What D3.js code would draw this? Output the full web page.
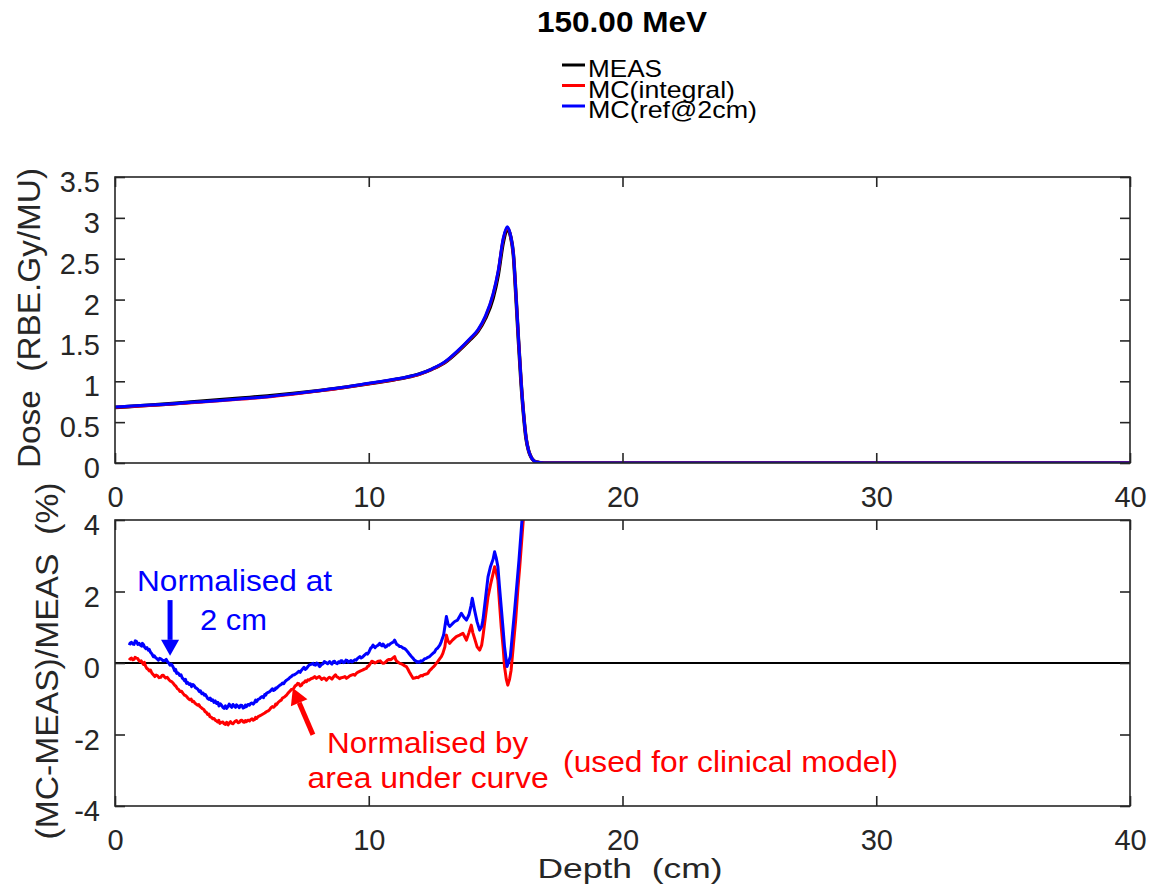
<!DOCTYPE html>
<html>
<head>
<meta charset="utf-8">
<script src="https://cdnjs.cloudflare.com/ajax/libs/d3/7.8.5/d3.min.js"></script>
<style>
body { margin: 0; background: #fff; }
text { font-family: "Liberation Sans", Arial, Helvetica, sans-serif; }
</style>
</head>
<body>
<div id="vis"></div>
<script>
/* Depth-dose curves (top panel) */
var doseDepth = [0, 1, 2, 3, 4, 5, 6, 7, 8, 9, 10, 11, 11.5, 12, 12.5, 13, 13.5, 14, 14.3, 14.6, 14.9, 15.1, 15.3, 15.46, 15.6, 15.7, 15.8, 15.9, 16.0, 16.1, 16.2, 16.3, 16.4, 16.5, 16.6, 16.8, 17, 20, 25, 30, 35, 40];
var doseMeas = [0.68, 0.70, 0.72, 0.745, 0.77, 0.795, 0.82, 0.85, 0.885, 0.925, 0.97, 1.02, 1.05, 1.09, 1.15, 1.23, 1.36, 1.51, 1.61, 1.77, 2.02, 2.3, 2.7, 2.86, 2.76, 2.55, 2.05, 1.5, 1.0, 0.6, 0.3, 0.15, 0.07, 0.03, 0.012, 0.003, 0, 0, 0, 0, 0, 0];
var doseMcInt = [0.681, 0.699, 0.716, 0.738, 0.758, 0.782, 0.808, 0.842, 0.881, 0.922, 0.97, 1.019, 1.048, 1.085, 1.148, 1.232, 1.365, 1.52, 1.62, 1.79, 2.06, 2.34, 2.74, 2.88, 2.76, 2.55, 2.06, 1.52, 1.02, 0.61, 0.31, 0.15, 0.07, 0.03, 0.012, 0.003, 0, 0, 0, 0, 0, 0];
var doseMcRef = [0.684, 0.703, 0.72, 0.742, 0.762, 0.786, 0.812, 0.846, 0.885, 0.926, 0.975, 1.024, 1.053, 1.09, 1.153, 1.238, 1.372, 1.527, 1.63, 1.8, 2.07, 2.35, 2.75, 2.89, 2.77, 2.56, 2.07, 1.53, 1.02, 0.61, 0.31, 0.15, 0.07, 0.03, 0.012, 0.003, 0, 0, 0, 0, 0, 0];

/* Relative difference (bottom panel), normalised at 2 cm */
var diffDepthRef = [0.56, 0.60, 0.65, 0.70, 0.75, 0.80, 0.85, 0.90, 0.95, 1.00, 1.05, 1.08, 1.12, 1.17, 1.22, 1.26, 1.31, 1.35, 1.40, 1.45, 1.51, 1.55, 1.60, 1.65, 1.71, 1.76, 1.82, 1.90, 1.97, 2.02, 2.08, 2.12, 2.17, 2.22, 2.28, 2.32, 2.35, 2.39, 2.43, 2.49, 2.55, 2.60, 2.65, 2.70, 2.74, 2.78, 2.82, 2.87, 2.92, 2.97, 3.02, 3.07, 3.12, 3.17, 3.22, 3.27, 3.32, 3.37, 3.42, 3.47, 3.52, 3.56, 3.61, 3.65, 3.70, 3.75, 3.80, 3.85, 3.90, 3.95, 4.00, 4.05, 4.10, 4.15, 4.20, 4.25, 4.30, 4.35, 4.40, 4.45, 4.50, 4.55, 4.60, 4.65, 4.70, 4.75, 4.79, 4.85, 4.90, 4.95, 5.00, 5.05, 5.10, 5.14, 5.18, 5.24, 5.30, 5.35, 5.40, 5.45, 5.50, 5.54, 5.58, 5.64, 5.70, 5.75, 5.80, 5.85, 5.90, 5.94, 5.97, 6.04, 6.10, 6.15, 6.20, 6.25, 6.30, 6.33, 6.36, 6.43, 6.50, 6.55, 6.60, 6.65, 6.70, 6.73, 6.76, 6.83, 6.90, 6.95, 7.00, 7.07, 7.15, 7.20, 7.25, 7.30, 7.35, 7.40, 7.45, 7.50, 7.55, 7.60, 7.65, 7.72, 7.81, 7.85, 7.90, 7.95, 8.00, 8.04, 8.07, 8.13, 8.20, 8.25, 8.30, 8.38, 8.46, 8.50, 8.55, 8.60, 8.65, 8.70, 8.76, 8.81, 8.86, 8.90, 8.95, 9.00, 9.05, 9.10, 9.15, 9.20, 9.25, 9.30, 9.35, 9.40, 9.45, 9.50, 9.55, 9.60, 9.65, 9.70, 9.75, 9.83, 9.91, 9.95, 10.00, 10.04, 10.08, 10.12, 10.17, 10.21, 10.25, 10.30, 10.35, 10.40, 10.43, 10.48, 10.52, 10.56, 10.60, 10.65, 10.70, 10.75, 10.80, 10.85, 10.90, 10.96, 11.02, 11.06, 11.10, 11.16, 11.22, 11.28, 11.35, 11.42, 11.48, 11.54, 11.60, 11.68, 11.75, 11.80, 11.85, 11.90, 11.94, 12.00, 12.05, 12.10, 12.15, 12.21, 12.27, 12.33, 12.40, 12.47, 12.53, 12.59, 12.65, 12.72, 12.80, 12.86, 12.95, 13.06, 13.12, 13.19, 13.30, 13.39, 13.50, 13.58, 13.65, 13.75, 13.85, 13.95, 14.03, 14.08, 14.17, 14.27, 14.37, 14.45, 14.50, 14.60, 14.70, 14.80, 14.90, 14.96, 15.02, 15.09, 15.15, 15.22, 15.30, 15.35, 15.45, 15.52, 15.58, 15.66, 15.75, 15.85, 15.92, 16.05, 16.20];
var diffRef = [0.50, 0.56, 0.58, 0.53, 0.52, 0.62, 0.60, 0.52, 0.55, 0.50, 0.47, 0.55, 0.52, 0.44, 0.40, 0.43, 0.36, 0.38, 0.30, 0.26, 0.18, 0.20, 0.15, 0.12, 0.08, 0.13, 0.11, 0.06, 0.07, 0.10, 0.02, 0.00, -0.06, -0.03, -0.10, -0.16, -0.22, -0.18, -0.29, -0.28, -0.35, -0.33, -0.42, -0.45, -0.50, -0.46, -0.57, -0.55, -0.60, -0.58, -0.66, -0.60, -0.63, -0.69, -0.71, -0.74, -0.80, -0.78, -0.86, -0.84, -0.90, -0.88, -0.94, -0.99, -1.02, -0.98, -1.05, -1.03, -1.10, -1.06, -1.13, -1.10, -1.20, -1.14, -1.18, -1.24, -1.27, -1.20, -1.27, -1.22, -1.15, -1.20, -1.24, -1.16, -1.20, -1.24, -1.17, -1.21, -1.25, -1.18, -1.19, -1.26, -1.24, -1.18, -1.22, -1.16, -1.18, -1.13, -1.12, -1.15, -1.10, -1.04, -1.08, -1.02, -1.00, -0.96, -0.94, -0.97, -0.88, -0.90, -0.85, -0.82, -0.80, -0.76, -0.72, -0.77, -0.75, -0.70, -0.71, -0.66, -0.62, -0.60, -0.56, -0.58, -0.52, -0.50, -0.48, -0.45, -0.40, -0.38, -0.34, -0.33, -0.29, -0.26, -0.23, -0.26, -0.20, -0.16, -0.12, -0.18, -0.15, -0.10, -0.06, -0.04, -0.01, -0.05, -0.06, 0.00, -0.02, -0.08, -0.10, -0.05, -0.02, 0.04, 0.02, -0.02, 0.04, 0.00, -0.03, 0.04, 0.05, 0.00, -0.02, 0.03, 0.01, 0.06, 0.06, 0.01, 0.02, 0.08, 0.07, 0.02, 0.04, 0.07, 0.03, 0.06, 0.09, 0.08, 0.12, 0.15, 0.18, 0.14, 0.16, 0.22, 0.27, 0.25, 0.30, 0.36, 0.42, 0.44, 0.50, 0.46, 0.43, 0.47, 0.49, 0.52, 0.55, 0.50, 0.48, 0.53, 0.50, 0.44, 0.46, 0.51, 0.50, 0.54, 0.56, 0.58, 0.64, 0.58, 0.52, 0.50, 0.46, 0.46, 0.42, 0.40, 0.36, 0.31, 0.25, 0.18, 0.13, 0.08, 0.06, 0.02, 0.04, 0.02, 0.06, 0.05, 0.08, 0.12, 0.13, 0.16, 0.18, 0.23, 0.27, 0.30, 0.38, 0.42, 0.50, 0.60, 0.78, 1.30, 1.10, 1.02, 1.10, 1.16, 1.20, 1.30, 1.39, 1.28, 1.20, 1.35, 1.60, 1.81, 1.48, 1.15, 0.92, 1.02, 1.20, 1.80, 2.41, 2.70, 2.90, 3.11, 2.95, 2.69, 2.15, 1.57, 0.90, 0.46, -0.10, 0.05, 0.18, 0.80, 1.48, 2.30, 2.88, 4.10, 6.00];

/* Relative difference (bottom panel), normalised by area under curve */
var diffDepthInt = [0.56, 0.60, 0.65, 0.70, 0.75, 0.79, 0.84, 0.90, 0.94, 0.98, 1.03, 1.08, 1.12, 1.16, 1.20, 1.25, 1.30, 1.35, 1.40, 1.45, 1.51, 1.57, 1.62, 1.68, 1.74, 1.80, 1.85, 1.90, 1.95, 2.00, 2.06, 2.12, 2.17, 2.23, 2.29, 2.35, 2.40, 2.46, 2.51, 2.56, 2.62, 2.68, 2.74, 2.80, 2.87, 2.95, 3.00, 3.05, 3.10, 3.15, 3.20, 3.25, 3.30, 3.35, 3.40, 3.45, 3.50, 3.55, 3.60, 3.65, 3.70, 3.74, 3.80, 3.85, 3.90, 3.95, 4.00, 4.05, 4.09, 4.13, 4.19, 4.25, 4.30, 4.35, 4.40, 4.46, 4.50, 4.55, 4.60, 4.65, 4.72, 4.79, 4.85, 4.90, 4.95, 5.00, 5.05, 5.10, 5.14, 5.18, 5.24, 5.30, 5.35, 5.40, 5.45, 5.50, 5.54, 5.58, 5.64, 5.70, 5.75, 5.80, 5.85, 5.90, 5.94, 5.97, 6.04, 6.10, 6.15, 6.20, 6.25, 6.30, 6.33, 6.36, 6.43, 6.50, 6.55, 6.60, 6.68, 6.76, 6.80, 6.85, 6.90, 6.95, 7.00, 7.05, 7.10, 7.15, 7.20, 7.25, 7.30, 7.35, 7.40, 7.45, 7.50, 7.55, 7.60, 7.65, 7.72, 7.80, 7.87, 7.94, 8.00, 8.05, 8.10, 8.15, 8.20, 8.25, 8.29, 8.33, 8.39, 8.45, 8.50, 8.55, 8.60, 8.65, 8.69, 8.73, 8.79, 8.85, 8.92, 9.00, 9.06, 9.12, 9.18, 9.25, 9.32, 9.40, 9.45, 9.51, 9.56, 9.62, 9.68, 9.75, 9.83, 9.91, 9.95, 10.00, 10.04, 10.08, 10.12, 10.17, 10.23, 10.30, 10.37, 10.45, 10.50, 10.56, 10.62, 10.68, 10.74, 10.80, 10.86, 10.92, 10.97, 11.02, 11.06, 11.10, 11.16, 11.22, 11.28, 11.35, 11.42, 11.48, 11.54, 11.60, 11.68, 11.75, 11.81, 11.88, 11.94, 12.00, 12.06, 12.12, 12.16, 12.20, 12.27, 12.33, 12.39, 12.45, 12.50, 12.56, 12.61, 12.66, 12.73, 12.80, 12.86, 12.92, 13.00, 13.06, 13.12, 13.19, 13.30, 13.45, 13.58, 13.71, 13.78, 13.85, 13.95, 14.04, 14.10, 14.17, 14.27, 14.37, 14.45, 14.50, 14.60, 14.70, 14.80, 14.90, 14.96, 15.02, 15.09, 15.15, 15.22, 15.30, 15.35, 15.42, 15.48, 15.55, 15.61, 15.70, 15.79, 15.88, 15.95, 16.10, 16.25];
var diffInt = [0.08, 0.12, 0.14, 0.09, 0.10, 0.16, 0.14, 0.12, 0.07, 0.04, 0.06, 0.00, -0.04, 0.02, -0.08, -0.15, -0.17, -0.22, -0.20, -0.28, -0.33, -0.38, -0.34, -0.36, -0.41, -0.40, -0.35, -0.34, -0.39, -0.42, -0.40, -0.46, -0.50, -0.52, -0.56, -0.62, -0.65, -0.72, -0.74, -0.80, -0.79, -0.85, -0.90, -0.92, -0.98, -1.03, -1.01, -1.08, -1.07, -1.12, -1.15, -1.18, -1.16, -1.22, -1.25, -1.28, -1.30, -1.36, -1.38, -1.44, -1.43, -1.50, -1.52, -1.56, -1.55, -1.60, -1.62, -1.65, -1.60, -1.69, -1.66, -1.65, -1.70, -1.72, -1.66, -1.73, -1.68, -1.64, -1.69, -1.70, -1.64, -1.61, -1.67, -1.66, -1.61, -1.60, -1.65, -1.66, -1.61, -1.64, -1.60, -1.62, -1.58, -1.56, -1.60, -1.58, -1.52, -1.55, -1.50, -1.48, -1.46, -1.44, -1.42, -1.40, -1.38, -1.36, -1.34, -1.30, -1.25, -1.22, -1.24, -1.20, -1.15, -1.17, -1.10, -1.06, -1.04, -0.98, -0.95, -0.90, -0.86, -0.82, -0.78, -0.74, -0.73, -0.70, -0.64, -0.62, -0.57, -0.58, -0.64, -0.62, -0.56, -0.55, -0.50, -0.52, -0.47, -0.48, -0.44, -0.42, -0.38, -0.43, -0.40, -0.38, -0.42, -0.46, -0.43, -0.42, -0.45, -0.48, -0.43, -0.40, -0.42, -0.45, -0.40, -0.36, -0.33, -0.38, -0.40, -0.44, -0.41, -0.40, -0.38, -0.43, -0.40, -0.36, -0.34, -0.32, -0.34, -0.29, -0.26, -0.24, -0.22, -0.20, -0.17, -0.15, -0.10, -0.08, -0.04, 0.00, 0.05, 0.04, 0.00, 0.02, 0.05, 0.06, 0.02, -0.01, 0.00, 0.04, 0.08, 0.10, 0.09, 0.12, 0.15, 0.18, 0.10, 0.05, 0.02, -0.01, -0.02, -0.05, -0.08, -0.10, -0.17, -0.25, -0.35, -0.43, -0.42, -0.40, -0.41, -0.38, -0.35, -0.36, -0.33, -0.32, -0.31, -0.29, -0.22, -0.18, -0.14, -0.10, -0.06, -0.01, 0.05, 0.12, 0.18, 0.27, 0.45, 0.78, 0.62, 0.55, 0.64, 0.74, 0.78, 0.83, 0.74, 0.64, 0.85, 1.06, 0.85, 0.69, 0.45, 0.36, 0.50, 0.74, 1.30, 1.85, 2.20, 2.50, 2.69, 2.55, 2.32, 1.70, 1.02, 0.40, -0.10, -0.45, -0.62, -0.45, -0.20, 0.50, 1.20, 2.10, 2.69, 4.10, 6.00];

/* Tick values and labels */
var xTicks = [0, 10, 20, 30, 40];
var doseTicks = [0, 0.5, 1, 1.5, 2, 2.5, 3, 3.5];
var diffTicks = [-4, -2, 0, 2, 4];
var legendLabels = ["MEAS", "MC(integral)", "MC(ref@2cm)"];
var legendColors = ["#000000", "#ff0000", "#0000ff"];

var axisColor = "#262626";
var font = '"Liberation Sans", Arial, Helvetica, sans-serif';

var svg = d3.select("#vis").append("svg")
    .attr("width", 1153)
    .attr("height", 895);

/* Panel geometry */
var left = 115, right = 1130;
var topPanel = {top: 177, bottom: 463};
var botPanel = {top: 520, bottom: 806};

var x = d3.scaleLinear().domain([0, 40]).range([left, right]);
var yDose = d3.scaleLinear().domain([0, 3.5]).range([topPanel.bottom, topPanel.top]);
var yDiff = d3.scaleLinear().domain([-4, 4]).range([botPanel.bottom, botPanel.top]);

function styleAxis(g) {
    g.select(".domain").remove();
    g.attr("font-family", font).attr("font-size", 29);
    g.selectAll(".tick line").attr("stroke", axisColor).attr("stroke-width", 1.6);
    g.selectAll(".tick text").attr("fill", axisColor);
}

function drawAxes(yScale, yTicks, panel) {
    /* bottom x axis with labels */
    svg.append("g")
        .attr("transform", "translate(0," + panel.bottom + ")")
        .call(d3.axisBottom(x).tickValues(xTicks).tickSizeInner(-10).tickSizeOuter(0).tickPadding(23)
            .tickFormat(function(d) { return String(d); }))
        .call(styleAxis);

    /* top ticks, no labels */
    svg.append("g")
        .attr("transform", "translate(0," + panel.top + ")")
        .call(d3.axisTop(x).tickValues(xTicks).tickSizeInner(-10).tickSizeOuter(0).tickFormat(""))
        .call(styleAxis);

    /* left y axis */
    svg.append("g")
        .attr("transform", "translate(" + left + ",0)")
        .call(d3.axisLeft(yScale).tickValues(yTicks).tickSizeInner(-10).tickSizeOuter(0).tickPadding(15)
            .tickFormat(function(d) { return String(d); }))
        .call(styleAxis)
        .selectAll(".tick text").attr("dy", "0.5em");

    /* right ticks */
    svg.append("g")
        .attr("transform", "translate(" + right + ",0)")
        .call(d3.axisRight(yScale).tickValues(yTicks).tickSizeInner(-10).tickSizeOuter(0).tickFormat(""))
        .call(styleAxis);

    /* box */
    svg.append("rect")
        .attr("x", left)
        .attr("y", panel.top)
        .attr("width", right - left)
        .attr("height", panel.bottom - panel.top)
        .attr("fill", "none")
        .attr("stroke", axisColor)
        .attr("stroke-width", 1.6);
}

function clip(id, panel) {
    svg.append("clipPath").attr("id", id)
        .append("rect")
        .attr("x", left).attr("y", panel.top)
        .attr("width", right - left).attr("height", panel.bottom - panel.top);
}
clip("clipTop", topPanel);
clip("clipBot", botPanel);

/* ---------- top panel ---------- */
var doseLine = function(values) {
    return d3.line()
        .curve(d3.curveMonotoneX)
        .x(function(d, i) { return x(doseDepth[i]); })
        .y(function(d) { return yDose(d); })(values);
};

var gTop = svg.append("g").attr("clip-path", "url(#clipTop)");
[[doseMeas, "#000000", 3.6], [doseMcInt, "#ff0000", 3], [doseMcRef, "#0000ff", 3]].forEach(function(s) {
    gTop.append("path")
        .attr("d", doseLine(s[0]))
        .attr("fill", "none")
        .attr("stroke", s[1])
        .attr("stroke-width", s[2])
        .attr("stroke-linejoin", "round");
});

drawAxes(yDose, doseTicks, topPanel);

/* ---------- bottom panel ---------- */
var gBot = svg.append("g").attr("clip-path", "url(#clipBot)");

gBot.append("line")
    .attr("x1", x(0)).attr("x2", x(40))
    .attr("y1", yDiff(0)).attr("y2", yDiff(0))
    .attr("stroke", "#000")
    .attr("stroke-width", 2);

function diffPath(depths, values) {
    return d3.line()
        .x(function(d, i) { return x(depths[i]); })
        .y(function(d) { return yDiff(d); })(values);
}

gBot.append("path")
    .attr("d", diffPath(diffDepthInt, diffInt))
    .attr("fill", "none").attr("stroke", "#ff0000").attr("stroke-width", 3).attr("stroke-linejoin", "round");
gBot.append("path")
    .attr("d", diffPath(diffDepthRef, diffRef))
    .attr("fill", "none").attr("stroke", "#0000ff").attr("stroke-width", 3).attr("stroke-linejoin", "round");

drawAxes(yDiff, diffTicks, botPanel);

/* ---------- titles and labels ---------- */
svg.append("text")
    .attr("x", 622).attr("y", 32)
    .attr("text-anchor", "middle")
    .attr("font-size", 30).attr("font-weight", "bold")
    .attr("textLength", 170).attr("lengthAdjust", "spacingAndGlyphs")
    .text("150.00 MeV");

/* legend */
var legend = svg.append("g");
legendLabels.forEach(function(label, i) {
    var ly = 65 + i * 20.5;
    legend.append("line")
        .attr("x1", 562).attr("x2", 585)
        .attr("y1", ly).attr("y2", ly)
        .attr("stroke", legendColors[i]).attr("stroke-width", 3);
    legend.append("text")
        .attr("x", 588).attr("y", ly + 12)
        .attr("font-size", 24)
        .attr("fill", "#000")
        .attr("textLength", [74, 147, 169][i]).attr("lengthAdjust", "spacingAndGlyphs")
        .text(label);
});

/* axis labels */
svg.append("text")
    .attr("x", 630).attr("y", 878)
    .attr("text-anchor", "middle")
    .attr("font-size", 28).attr("fill", axisColor)
    .style("white-space", "pre")
    .attr("textLength", 185).attr("lengthAdjust", "spacingAndGlyphs")
    .text("Depth  (cm)");

svg.append("text")
    .attr("transform", "translate(40,318) rotate(-90)")
    .attr("text-anchor", "middle")
    .attr("font-size", 31).attr("fill", axisColor)
    .style("white-space", "pre")
    .attr("textLength", 300).attr("lengthAdjust", "spacingAndGlyphs")
    .text("Dose  (RBE.Gy/MU)");

svg.append("text")
    .attr("transform", "translate(58,661) rotate(-90)")
    .attr("text-anchor", "middle")
    .attr("font-size", 31).attr("fill", axisColor)
    .style("white-space", "pre")
    .attr("textLength", 357).attr("lengthAdjust", "spacingAndGlyphs")
    .text("(MC-MEAS)/MEAS  (%)");

/* ---------- annotations ---------- */
function note(text, dx, dy, color, len, anchor) {
    svg.append("text")
        .attr("x", x(dx)).attr("y", yDiff(dy))
        .attr("text-anchor", anchor || "middle")
        .attr("font-size", 29)
        .attr("fill", color)
        .attr("textLength", len).attr("lengthAdjust", "spacingAndGlyphs")
        .text(text);
}
note("Normalised at", 4.71, 2.01, "#0000ff", 195);
note("2 cm", 4.67, 0.92, "#0000ff", 67);
note("Normalised by", 12.32, -2.52, "#ff0000", 201);
note("area under curve", 12.34, -3.50, "#ff0000", 241);
note("(used for clinical model)", 17.66, -3.05, "#ff0000", 335, "start");

function arrow(x0, y0, x1, y1, color) {
    var ax = x(x0), ay = yDiff(y0), bx = x(x1), by = yDiff(y1);
    var len = Math.hypot(bx - ax, by - ay);
    var ux = (bx - ax) / len, uy = (by - ay) / len;
    var head = 16, half = 9;
    var cx = bx - ux * head, cy = by - uy * head;
    svg.append("line")
        .attr("x1", ax).attr("y1", ay)
        .attr("x2", cx).attr("y2", cy)
        .attr("stroke", color).attr("stroke-width", 5);
    svg.append("path")
        .attr("d", "M" + bx + "," + by +
            "L" + (cx - uy * half) + "," + (cy + ux * half) +
            "L" + (cx + uy * half) + "," + (cy - ux * half) + "Z")
        .attr("fill", color);
}
arrow(2.17, 1.76, 2.17, 0.2, "#0000ff");
arrow(7.80, -2.01, 7.01, -0.70, "#ff0000");
</script>
</body>
</html>
